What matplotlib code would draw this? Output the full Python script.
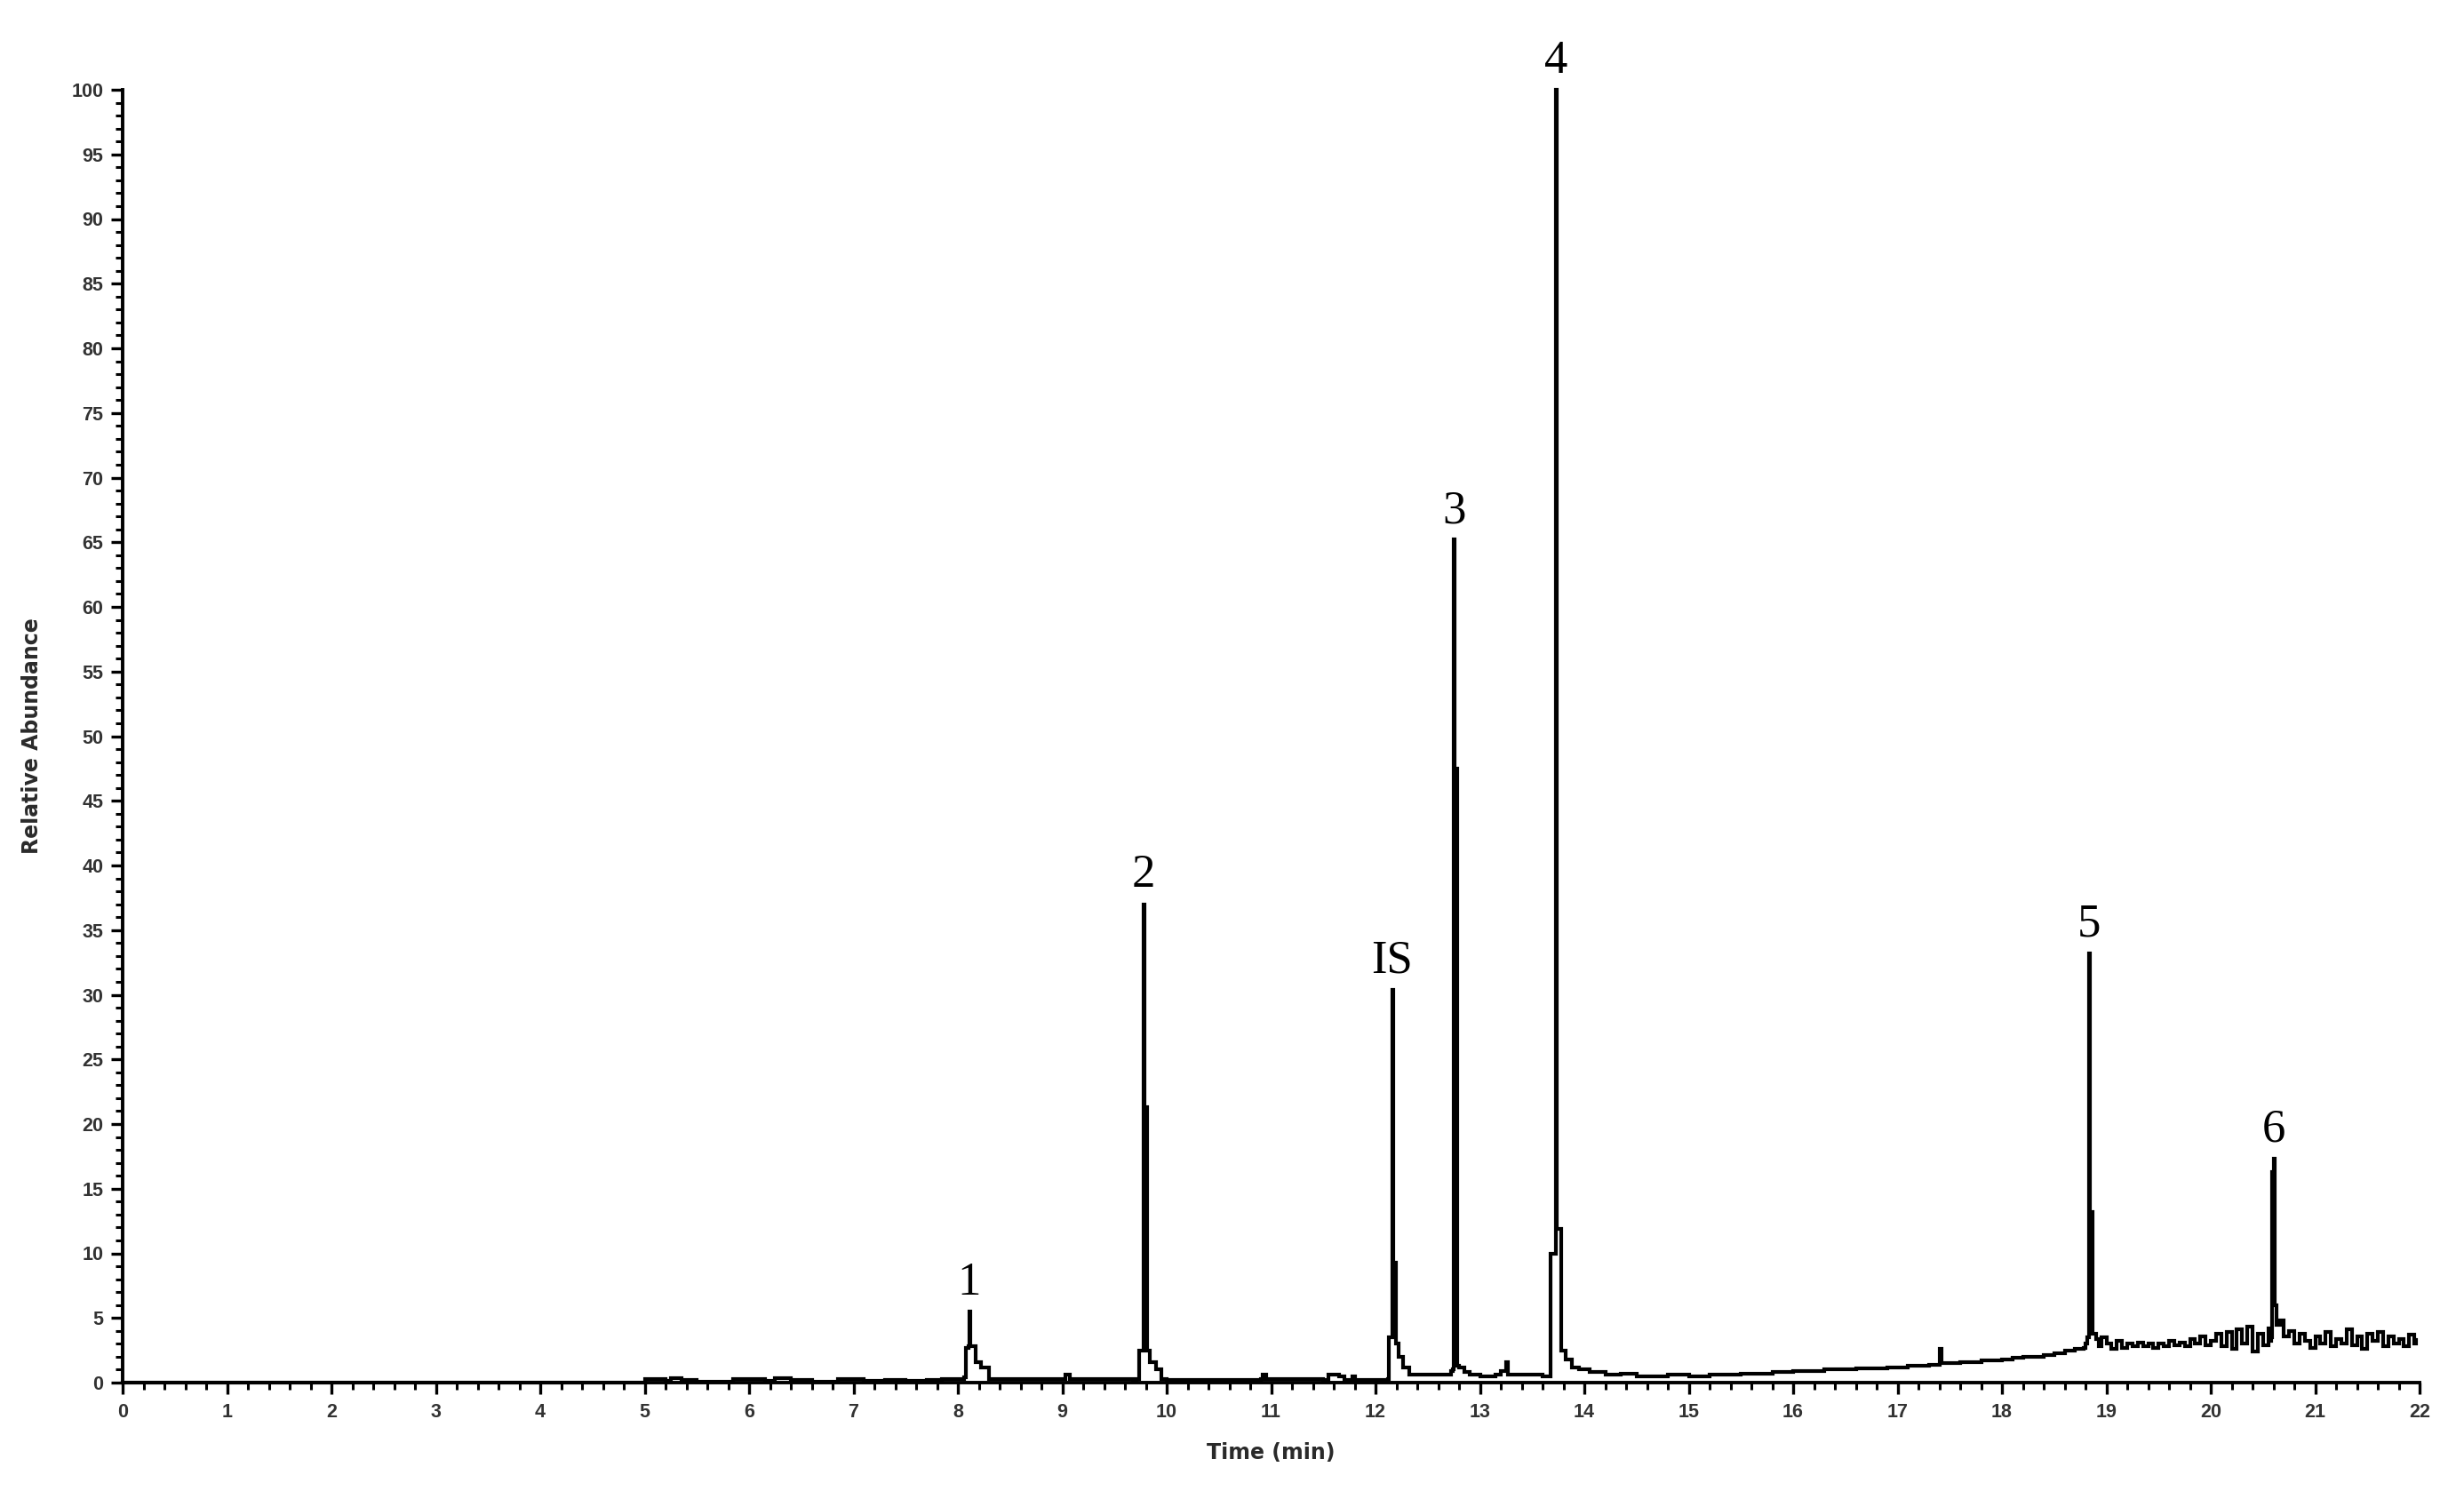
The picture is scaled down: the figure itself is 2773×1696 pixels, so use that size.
import matplotlib
matplotlib.use("Agg")
import matplotlib.pyplot as plt
from matplotlib.ticker import MultipleLocator

# ---- data ----
time_min = [
    0.00, 4.95, 5.00, 5.15, 5.20, 5.25, 5.35, 5.50, 5.80, 5.85, 6.10, 6.15, 6.25, 6.40,
    6.60, 6.80, 6.85, 7.05, 7.10, 7.30, 7.50, 7.70, 7.85, 8.00,
    # peak 1
    8.06, 8.08, 8.10, 8.11, 8.12, 8.15, 8.17, 8.22, 8.30, 8.40, 8.60, 9.00, 9.03, 9.07, 9.50, 9.68,
    # peak 2
    9.71, 9.74, 9.765, 9.775, 9.785, 9.80, 9.81, 9.84, 9.90, 9.95, 10.00, 10.40, 10.90, 10.92, 10.95,
    11.50, 11.55, 11.65, 11.70, 11.75, 11.78, 11.80, 12.10,
    # IS
    12.12, 12.13, 12.15, 12.16, 12.17, 12.19, 12.195, 12.22, 12.26, 12.32, 12.45, 12.55, 12.68, 12.72,
    # peak 3
    12.74, 12.75, 12.755, 12.775, 12.785, 12.80, 12.85, 12.90, 13.00, 13.15, 13.20, 13.25, 13.27,
    13.60, 13.67, 13.68, 13.72,
    # peak 4
    13.73, 13.74, 13.77, 13.78, 13.82, 13.88, 13.95, 14.05, 14.20, 14.35,
    14.50, 14.80, 15.00, 15.20, 15.50, 15.80, 16.00, 16.30, 16.60, 16.90, 17.10, 17.30, 17.38,
    17.40, 17.42, 17.60, 17.80, 18.00, 18.10, 18.20, 18.40, 18.50, 18.60, 18.70, 18.78,
    # peak 5
    18.80, 18.82, 18.83, 18.84, 18.86, 18.87, 18.90, 18.93, 18.95,
    19.00, 19.05, 19.10, 19.15, 19.20, 19.25, 19.30, 19.35, 19.40, 19.45, 19.50, 19.55, 19.60,
    19.65, 19.70, 19.75, 19.80, 19.85, 19.90, 19.95, 20.00, 20.05, 20.10, 20.15, 20.20, 20.25,
    20.30, 20.35, 20.40, 20.45, 20.50, 20.55, 20.57,
    # peak 6
    20.58, 20.585, 20.595, 20.60, 20.61, 20.615, 20.62, 20.63, 20.66, 20.70, 20.75, 20.80, 20.85,
    20.90, 20.95, 21.00, 21.05, 21.10, 21.15, 21.20, 21.25, 21.30, 21.35, 21.40, 21.45, 21.50,
    21.55, 21.60, 21.65, 21.70, 21.75, 21.80, 21.85, 21.90, 21.95, 21.97,
]
rel_abundance = [
    0.0, 0.0, 0.3, 0.3, 0.15, 0.35, 0.2, 0.05, 0.05, 0.3, 0.3, 0.15, 0.35, 0.2,
    0.1, 0.1, 0.3, 0.3, 0.15, 0.2, 0.15, 0.2, 0.3, 0.3,
    0.4, 2.7, 2.8, 5.5, 2.8, 2.8, 1.6, 1.2, 0.3, 0.3, 0.3, 0.3, 0.6, 0.3, 0.3, 0.2,
    0.3, 2.5, 2.5, 37.0, 21.3, 21.3, 2.5, 1.6, 1.0, 0.3, 0.2, 0.2, 0.25, 0.6, 0.25,
    0.2, 0.6, 0.5, 0.2, 0.2, 0.5, 0.2, 0.2,
    0.3, 3.5, 3.5, 30.4, 9.3, 9.3, 3.0, 2.0, 1.2, 0.6, 0.6, 0.6, 0.6, 0.9,
    1.0, 65.2, 47.5, 47.5, 1.3, 1.2, 0.8, 0.6, 0.5, 0.6, 0.9, 1.6, 0.6,
    0.5, 0.5, 10.0, 10.0,
    100.0, 11.9, 11.9, 2.5, 1.8, 1.2, 1.0, 0.8, 0.6, 0.7,
    0.5, 0.6, 0.5, 0.6, 0.7, 0.8, 0.9, 1.0, 1.1, 1.2, 1.3, 1.4, 1.4,
    2.6, 1.5, 1.6, 1.7, 1.8, 1.9, 2.0, 2.1, 2.3, 2.5, 2.6, 2.7,
    3.0, 3.5, 33.2, 13.2, 13.2, 3.8, 3.4, 2.8, 3.5,
    3.0, 2.6, 3.2, 2.7, 3.0, 2.8, 3.1, 2.8, 3.0, 2.7, 3.0, 2.8, 3.2,
    2.9, 3.1, 2.8, 3.4, 3.0, 3.6, 2.9, 3.2, 3.8, 2.8, 3.9, 2.6, 4.1,
    3.0, 4.3, 2.4, 3.8, 2.9, 4.2, 3.2,
    3.5, 16.3, 16.3, 17.3, 17.3, 6.0, 6.0, 4.5, 4.8, 3.6, 4.0, 3.0, 3.8,
    3.2, 2.7, 3.6, 3.0, 3.9, 2.8, 3.4, 3.0, 4.1, 2.9, 3.6, 2.6, 3.8,
    3.2, 3.9, 2.8, 3.6, 3.0, 3.4, 2.8, 3.7, 3.0, 3.3,
]

peak_labels = ["1", "2", "IS", "3", "4", "5", "6"]
peak_times = [8.11, 9.775, 12.16, 12.75, 13.73, 18.83, 20.605]
peak_heights = [5.5, 37.0, 30.4, 65.2, 100.0, 33.2, 17.3]

x_ticks = list(range(0, 23))
y_ticks = list(range(0, 101, 5))

# ---- figure ----
W, H, DPI = 2773, 1696, 100
fig = plt.figure(figsize=(W / DPI, H / DPI), dpi=DPI, facecolor="white")
ax = fig.add_axes([138 / W, 1 - 1556 / H, (2723 - 138) / W, (1556 - 101) / H])

ax.plot(time_min, rel_abundance, color="black", lw=3.0, drawstyle="steps-post",
        solid_joinstyle="miter", clip_on=False, zorder=3)

ax.set_xlim(0, 22)
ax.set_ylim(0, 100)

for s in ["top", "right"]:
    ax.spines[s].set_visible(False)
for s in ["left", "bottom"]:
    ax.spines[s].set_linewidth(2.8)
    ax.spines[s].set_color("black")

ax.set_xticks(x_ticks)
ax.set_yticks(y_ticks)
ax.xaxis.set_minor_locator(MultipleLocator(0.2))
ax.yaxis.set_minor_locator(MultipleLocator(1))
ax.tick_params(which="major", length=9.5, width=2.4, direction="out", color="black")
ax.tick_params(which="minor", length=5.5, width=2.2, direction="out", color="black")
ax.tick_params(axis="x", which="major", pad=7)
ax.tick_params(axis="y", which="major", pad=6)

tick_font = ["Liberation Sans", "DejaVu Sans"]
for lab in ax.get_xticklabels() + ax.get_yticklabels():
    lab.set_family(tick_font)
    lab.set_fontsize(15.5)
    lab.set_fontweight("bold")
    lab.set_color("#333333")

ax.set_xlabel("Time (min)", family=["DejaVu Sans"], fontsize=17, fontweight="bold",
              color="#2a2a2a")
ax.set_ylabel("Relative Abundance", family=["DejaVu Sans"], fontsize=17, fontweight="bold",
              color="#2a2a2a")
ax.xaxis.set_label_coords(0.5, -0.046)
ax.yaxis.set_label_coords(-0.035, 0.5)

for lab, t, h in zip(peak_labels, peak_times, peak_heights):
    ax.annotate(lab, xy=(t, h), xytext=(0, 6), textcoords="offset points",
                ha="center", va="bottom", family=["Liberation Serif", "DejaVu Serif"],
                fontsize=38, color="black", annotation_clip=False)

fig.savefig("out.png", dpi=DPI, facecolor="white")
